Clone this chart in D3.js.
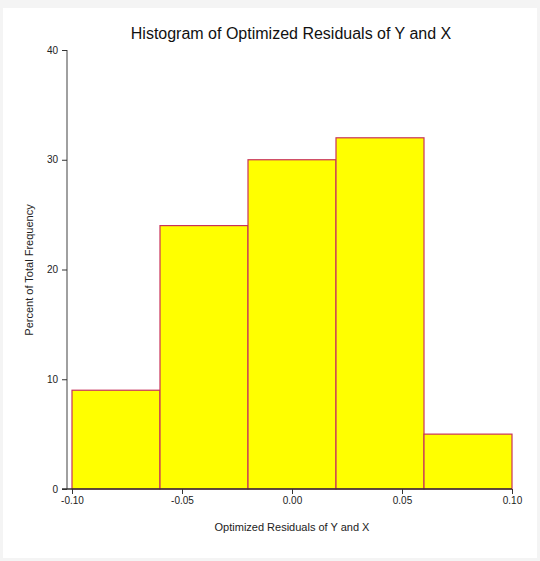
<!DOCTYPE html>
<html><head><meta charset="utf-8">
<script src="https://cdn.jsdelivr.net/npm/d3@7"></script>
<style>body{margin:0;background:#f4f4f4;font-family:Arial,"Liberation Sans",sans-serif}</style>
</head><body>
<svg id="c" width="540" height="561"></svg>
<script>
const binEdges = [-0.10, -0.06, -0.02, 0.02, 0.06, 0.10];
const percents = [9, 24, 30, 32, 5];
const xTicks = [-0.10, -0.05, 0.00, 0.05, 0.10];
const yTicks = [0, 10, 20, 30, 40];
const title = "Histogram of Optimized Residuals of Y and X";
const xLabel = "Optimized Residuals of Y and X";
const yLabel = "Percent of Total Frequency";

const svg = d3.select("#c");
svg.append("rect").attr("x",3).attr("y",8).attr("width",534).attr("height",550).attr("fill","#fff");

const x = d3.scaleLinear().domain([-0.10,0.10]).range([72,512]);
const y = d3.scaleLinear().domain([0,40]).range([489,50]);

const bins = percents.map((v,i)=>({x0:binEdges[i],x1:binEdges[i+1],v}));
svg.selectAll("rect.bar").data(bins).join("rect").attr("class","bar")
  .attr("x",d=>x(d.x0)).attr("width",d=>x(d.x1)-x(d.x0))
  .attr("y",d=>y(d.v)).attr("height",d=>y(0)-y(d.v))
  .attr("fill","#ffff00").attr("stroke","#c8325a").attr("stroke-width",1.2);

// y axis
const ya = svg.append("g").attr("transform","translate(67,0)")
  .call(d3.axisLeft(y).tickValues(yTicks).tickSize(5).tickPadding(4).tickFormat(d3.format("d")));
ya.select(".domain").attr("stroke","#808080").attr("stroke-width",1.5).attr("d","M0,50V489");
ya.selectAll(".tick line").attr("stroke","#333");
ya.selectAll("text").attr("font-size",10).attr("fill","#222").attr("font-family","Arial, Liberation Sans, sans-serif");

// x axis
const xa = svg.append("g").attr("transform","translate(0,489)")
  .call(d3.axisBottom(x).tickValues(xTicks).tickSize(5).tickPadding(3).tickFormat(d=>d.toFixed(2)));
xa.select(".domain").attr("stroke","#333").attr("stroke-width",1.5).attr("d","M62,0H512");
xa.selectAll(".tick line").attr("stroke","#333");
xa.selectAll("text").attr("font-size",10).attr("fill","#222").attr("font-family","Arial, Liberation Sans, sans-serif");

svg.append("text").attr("x",291).attr("y",39).attr("text-anchor","middle")
  .attr("font-size",16).attr("fill","#111").text(title);
svg.append("text").attr("x",292).attr("y",531).attr("text-anchor","middle")
  .attr("font-size",11).attr("fill","#222").text(xLabel);
svg.append("text").attr("transform","translate(33,270) rotate(-90)").attr("text-anchor","middle")
  .attr("font-size",11).attr("fill","#222").text(yLabel);
</script>
</body></html>
